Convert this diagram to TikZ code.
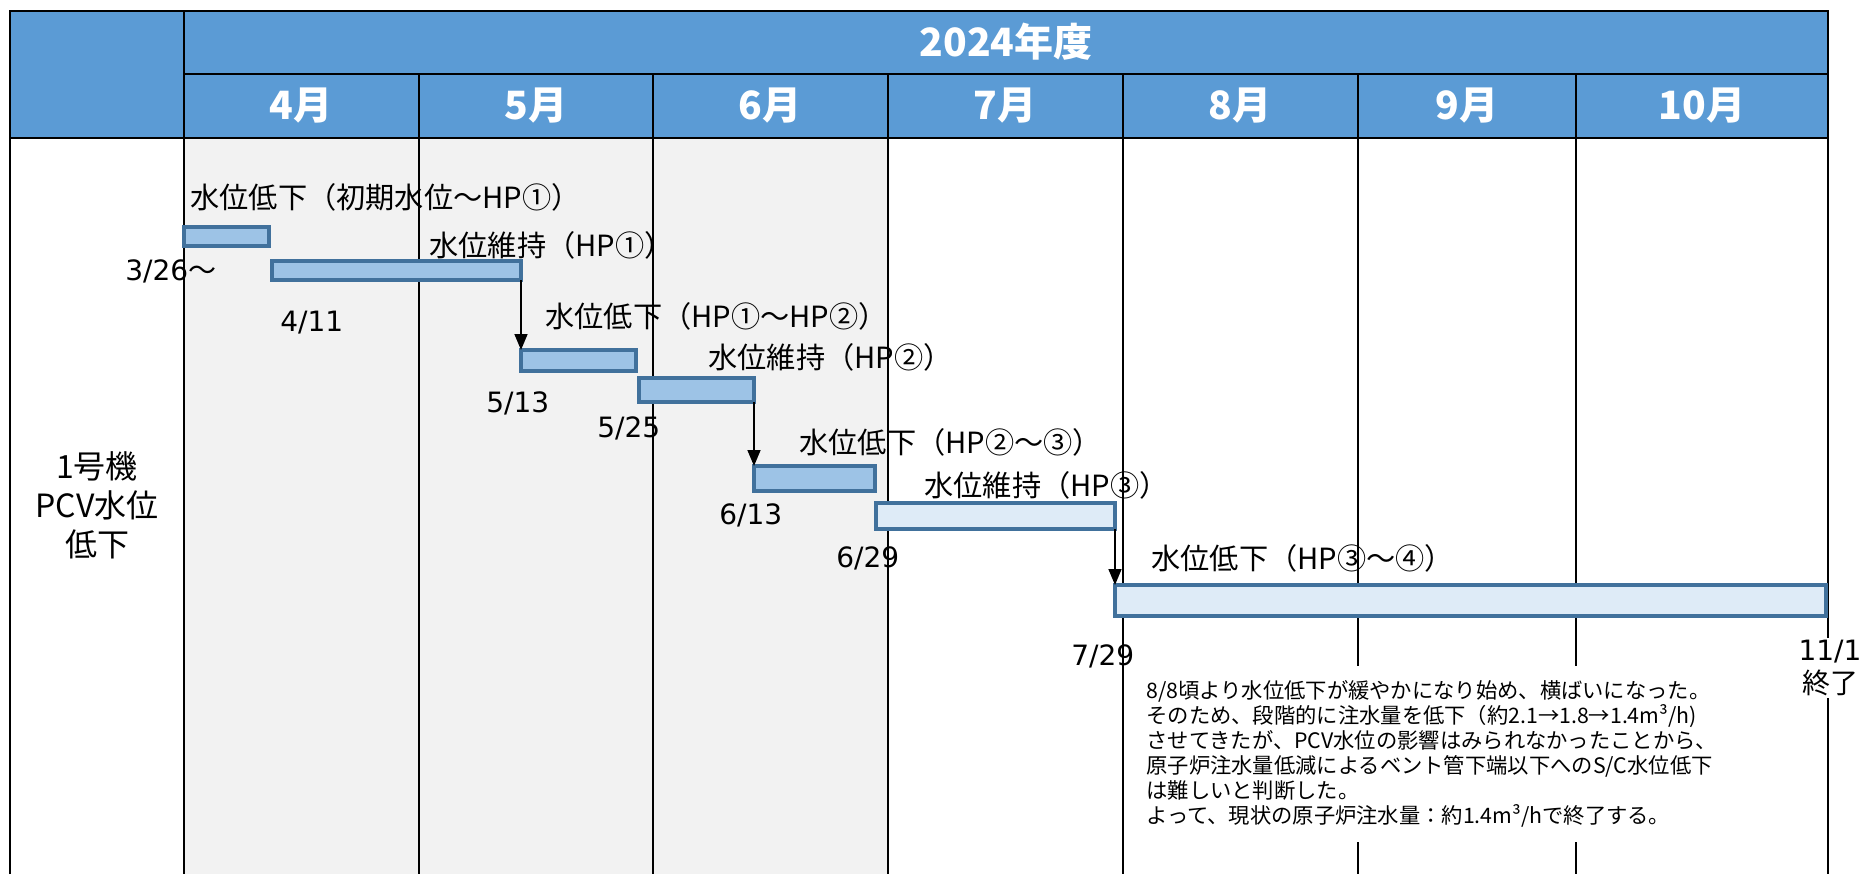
\documentclass[tikz,border=0pt]{standalone}
\usepackage{fontspec}
\setmainfont{Noto Sans CJK JP}
\newfontfamily\datefont{DejaVu Sans}
\usetikzlibrary{arrows.meta}
\definecolor{headblue}{HTML}{5B9BD5}
\definecolor{barblue}{HTML}{9DC3E6}
\definecolor{barpale}{HTML}{DEEBF7}
\definecolor{baredge}{HTML}{41719C}
\definecolor{shadegray}{HTML}{F2F2F2}

\begin{document}
\begin{tikzpicture}[x=0.5pt,y=-0.5pt,
    grid/.style={line width=1.2pt},
    bar/.style={draw=baredge,line width=1.7pt,fill=barblue},
    barpale/.style={bar,fill=barpale},
    head/.style={text=white,font=\bfseries\fontsize{19.5}{22}\selectfont},
    lbl/.style={anchor=west,inner sep=0pt,font=\fontsize{14.6}{17}\selectfont},
    datelbl/.style={anchor=west,inner sep=0pt,font=\datefont\fontsize{14}{17}\selectfont},
    stepdown/.style={-{Stealth[length=8pt,width=6.5pt,inset=0pt]},line width=0.8pt}]
    \useasboundingbox (0,0) rectangle (1864,874);

    % bar corners
    \coordinate (b1a) at (184,227);  \coordinate (b1b) at (269,246);
    \coordinate (b2a) at (272,261);  \coordinate (b2b) at (521,280);
    \coordinate (b3a) at (521,350);  \coordinate (b3b) at (636,371);
    \coordinate (b4a) at (639,378);  \coordinate (b4b) at (754,402);
    \coordinate (b5a) at (754,466);  \coordinate (b5b) at (875,491);
    \coordinate (b6a) at (876,503);  \coordinate (b6b) at (1115,529);
    \coordinate (b7a) at (1115,585); \coordinate (b7b) at (1826,616);

    % background
    \fill[headblue] (10,11) rectangle (1828,138);
    \fill[shadegray] (184,138) rectangle (888,874);

    % table lines
    \draw[grid] (10,874) -- (10,11) -- (1828,11) -- (1828,874);
    \draw[grid] (184,11) -- (184,874);
    \draw[grid] (184,74) -- (1828,74);
    \draw[grid] (10,138) -- (1828,138);
    \draw[grid] (419,74) -- (419,874);
    \draw[grid] (653,74) -- (653,874);
    \draw[grid] (888,74) -- (888,874);
    \draw[grid] (1123,74) -- (1123,874);
    \draw[grid] (1358,74) -- (1358,874);
    \draw[grid] (1576,74) -- (1576,874);

    % header
    \node[head] (fy) at (1006,42) {2024年度};
    \node[head] (apr) at (301,106) {4月};
    \node[head] (may) at (536,106) {5月};
    \node[head] (jun) at (770,106) {6月};
    \node[head] (jul) at (1005,106) {7月};
    \node[head] (aug) at (1240,106) {8月};
    \node[head] (sep) at (1467,106) {9月};
    \node[head] (oct) at (1702,106) {10月};

    \node[align=center,font=\fontsize{16}{19.5}\selectfont] (unit) at (97,505) {1号機\\PCV水位\\低下};

    % bars
    \draw[bar] (b1a) rectangle (b1b);
    \draw[bar] (b2a) rectangle (b2b);
    \draw[bar] (b3a) rectangle (b3b);
    \draw[bar] (b4a) rectangle (b4b);
    \draw[bar] (b5a) rectangle (b5b);
    \draw[barpale] (b6a) rectangle (b6b);
    \draw[barpale] (b7a) rectangle (b7b);

    \draw[stepdown] (b2b) -- (b3a);
    \draw[stepdown] (b4b) -- (b5a);
    \draw[stepdown] (b6b) -- (b7a);

    % labels
    \node[lbl] (l1) at (190,197) {水位低下（初期水位～HP①）};
    \node[datelbl] (d1) at (125,271) {3/26{\normalfont ～}};
    \node[lbl] (l2) at (429,245) {水位維持（HP①）};
    \node[datelbl] (d2) at (280,323) {4/11};
    \node[lbl] (l3) at (545,316) {水位低下（HP①～HP②）};
    \node[datelbl] (d3) at (486,403) {5/13};
    \node[lbl] (l4) at (708,357) {水位維持（HP②）};
    \node[datelbl] (d4) at (597,428) {5/25};
    \node[lbl] (l5) at (799,442) {水位低下（HP②～③）};
    \node[datelbl] (d5) at (719,515) {6/13};
    \node[lbl] (l6) at (924,485) {水位維持（HP③）};
    \node[datelbl] (d6) at (836,558) {6/29};
    \node[lbl] (l7) at (1151,558) {水位低下（HP③～④）};
    \node[datelbl] (d7) at (1071,656) {7/29};

    \node[fill=white,align=center,inner sep=1pt,font=\fontsize{14}{16.5}\selectfont] (fin) at (1830,668) {{\datefont 11/1}\\終了};

    \node[fill=white,anchor=west,align=left,inner xsep=5.5pt,minimum height=88pt,
          font=\fontsize{10.65}{12.5}\selectfont] (memo) at (1135,754)
      {8/8頃より水位低下が緩やかになり始め、横ばいになった。\\
       そのため、段階的に注水量を低下（約2.1→1.8→1.4m³/h)\\
       させてきたが、PCV水位の影響はみられなかったことから、\\
       原子炉注水量低減によるベント管下端以下へのS/C水位低下\\
       は難しいと判断した。\\
       よって、現状の原子炉注水量：約1.4m³/hで終了する。};
\end{tikzpicture}
\end{document}
